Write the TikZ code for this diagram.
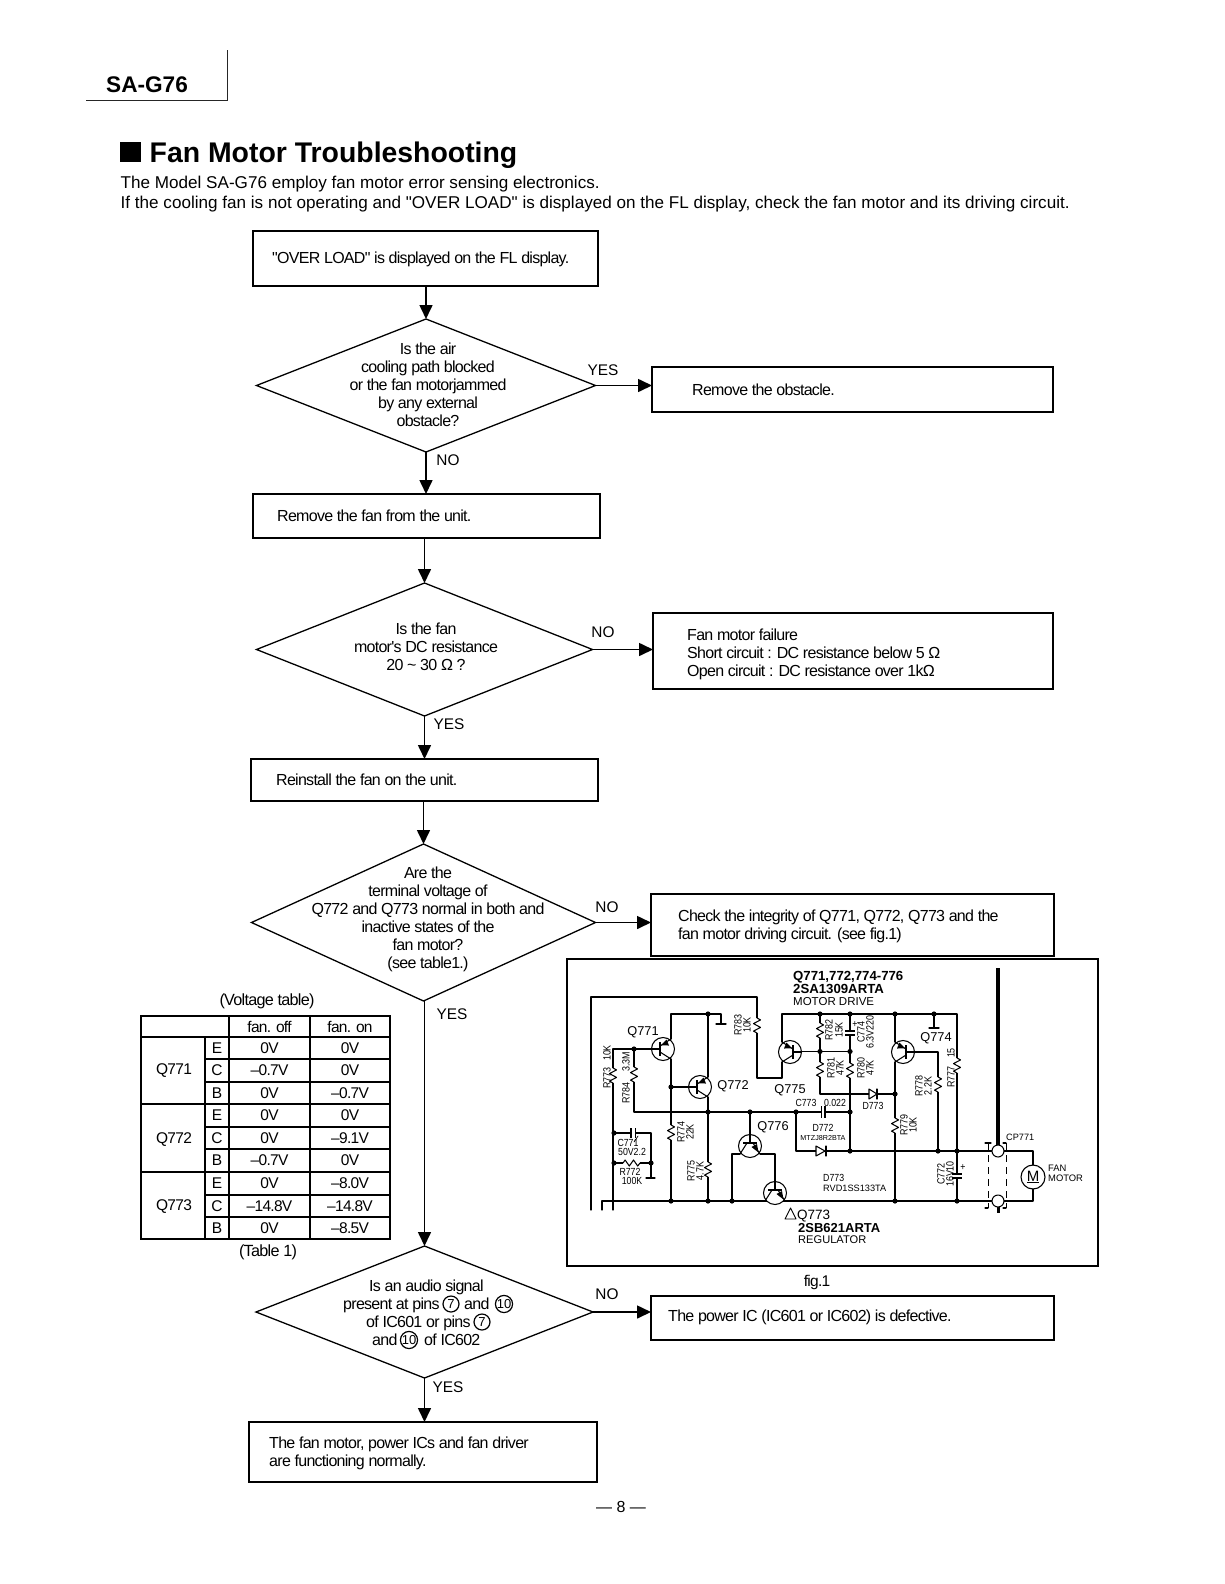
\documentclass[tikz,border=0pt]{standalone}
\usepackage{fontspec}
\setmainfont{Liberation Sans}
\newfontfamily\flowfont[LetterSpace=-4.5]{Liberation Sans}
\newfontfamily\bodyfont{Liberation Sans}
\newfontfamily\condfont[FakeStretch=0.85]{Liberation Sans}
\usetikzlibrary{shapes.geometric,arrows.meta}
\tikzset{
 fbox/.style={draw,line width=1.3pt,inner sep=0,outer sep=0},
 dia/.style={draw,diamond,aspect=2.5,line width=1.3pt,inner sep=0,outer sep=0},
 flowarrow/.style={line width=1.6pt,-{Triangle[length=14pt,width=13pt]}},
 ftext/.style={inner sep=0,anchor=base west,font=\flowfont\fontsize{16}{18}\selectfont},
 dtext/.style={inner sep=0,align=center,font=\flowfont\fontsize{16}{18}\selectfont},
 yn/.style={inner sep=0,font=\fontsize{15.4}{18}\selectfont},
 tcell/.style={inner sep=0,font=\flowfont\fontsize{15.5}{18}\selectfont},
 tcap/.style={inner sep=0,font=\flowfont\fontsize{16.2}{18}\selectfont},
 cnum/.style={draw,circle,inner sep=0,minimum size=16pt,line width=1.2pt,font=\fontsize{13}{14}\selectfont},
 wire/.style={line width=1.05pt,line cap=round,line join=round},
 tline/.style={line width=1.5pt},
 lab/.style={inner sep=0,font=\condfont\fontsize{10.3}{11}\selectfont},
 vlab/.style={inner sep=0,rotate=90,font=\condfont\fontsize{10.5}{11}\selectfont},
 qlab/.style={inner sep=0,font=\fontsize{12.8}{14}\selectfont},
 hb/.style={inner sep=0,anchor=base west,font=\bfseries\fontsize{13.2}{14}\selectfont},
 hr/.style={inner sep=0,anchor=base west,font=\fontsize{11.5}{13}\selectfont},
}
\newcommand\mn{–}
\newcommand\trhor[3]{%
 \begin{scope}[shift={(#1,#2)},xscale=#3]
 \draw[wire,fill=white] (0,0) circle (11.5);
 \draw[wire] (-11.5,0)--(-3,0);
 \draw[line width=1.8pt] (-3,-7)--(-3,7);
 \draw[wire] (-3,3)--(8,10);
 \draw[wire] (-3,-3)--(8,-10);
 \fill (-2,-3.6)--(3.5,-9.5)--(6,-3.5)--cycle;
 \end{scope}}
\newcommand\trver[2]{%
 \begin{scope}[shift={(#1,#2)}]
 \draw[wire,fill=white] (0,0) circle (11.5);
 \draw[wire] (0,-11.5)--(0,-3);
 \draw[line width=1.8pt] (-7,-3)--(7,-3);
 \draw[wire] (-3,-3)--(-10,8);
 \draw[wire] (3,-3)--(10,8);
 \fill (8.5,6.5)--(1.5,1)--(7,-2)--cycle;
 \end{scope}}
\newcommand\resv[2]{%
 \fill[white] (#1-1.5,#2) rectangle (#1+1.5,#2+15);
 \draw[wire] (#1,#2)--++(3.5,1.9)--++(-7,3.7)--++(7,3.8)--++(-7,3.7)--++(3.5,1.9);}
\newcommand\resh[2]{%
 \fill[white] (#1,#2-1.5) rectangle (#1+17,#2+1.5);
 \draw[wire] (#1,#2)--++(2.1,-3)--++(4.2,6)--++(4.2,-6)--++(4.2,6)--++(2.3,-3);}
\begin{document}
\begin{tikzpicture}[x=1pt,y=-1pt]
\useasboundingbox (0,0) rectangle (1224,1584);
% header
\draw[line width=1pt,black!85] (86,101)--(227,101)--(227,50);
\node[inner sep=0,anchor=base west,font=\bfseries\fontsize{22.6}{24}\selectfont] (model) at (106,93) {SA-G76};
\fill (120,142) rectangle (141,162);
\node[inner sep=0,anchor=base west,font=\bfseries\fontsize{28.4}{30}\selectfont] (title) at (149.5,162) {Fan Motor Troubleshooting};
\node[inner sep=0,anchor=base west,font=\bodyfont\fontsize{17.1}{20}\selectfont] (p1) at (120.5,188) {The Model SA-G76 employ fan motor error sensing electronics.};
\node[inner sep=0,anchor=base west,font=\bodyfont\fontsize{17.1}{20}\selectfont] (p2) at (120.5,208) {If the cooling fan is not operating and "OVER LOAD" is displayed on the FL display, check the fan motor and its driving circuit.};
% boxes
\node[fbox,minimum width=345pt,minimum height=55pt] (b1) at (425.5,258.5) {};
\node[fbox,minimum width=401pt,minimum height=45pt] (r1) at (852.5,389.5) {};
\node[fbox,minimum width=347pt,minimum height=44pt] (b2) at (426.5,516) {};
\node[fbox,minimum width=400pt,minimum height=76pt] (r2) at (853,651) {};
\node[fbox,minimum width=347pt,minimum height=42pt] (b3) at (424.5,780) {};
\node[fbox,minimum width=403pt,minimum height=62pt] (r3) at (852.5,925) {};
\node[fbox,minimum width=403pt,minimum height=44pt] (r4) at (852.5,1318) {};
\node[fbox,minimum width=348pt,minimum height=60pt] (b5) at (423,1452) {};
% diamonds
\node[dia,minimum width=339pt,minimum height=133pt] (d1) at (426,385.5) {};
\node[dia,minimum width=336pt,minimum height=133pt] (d2) at (424.5,649.5) {};
\node[dia,minimum width=344pt,minimum height=157pt] (d3) at (423.5,922.5) {};
\node[dia,minimum width=337pt,minimum height=132pt] (d4) at (424.5,1312) {};
% connectors
\draw[flowarrow] (d1.north |- b1.south) -- (d1.north);
\draw[flowarrow] (d1.east) -- (d1.east -| r1.west);
\draw[flowarrow] (d1.south) -- (d1.south |- b2.north);
\draw[flowarrow] (d2.north |- b2.south) -- (d2.north);
\draw[flowarrow] (d2.east) -- (d2.east -| r2.west);
\draw[flowarrow] (d2.south) -- (d2.south |- b3.north);
\draw[flowarrow] (d3.north |- b3.south) -- (d3.north);
\draw[flowarrow] (d3.east) -- (d3.east -| r3.west);
\draw[flowarrow] (d4.north |- d3.south) -- (d4.north);
\draw[flowarrow] (d4.east) -- (d4.east -| r4.west);
\draw[flowarrow] (d4.south) -- (d4.south |- b5.north);
% flow texts
\node[ftext] (tb1) at (272,263) {"OVER LOAD" is displayed on the FL display.};
\node[ftext] (tr1) at (692,395) {Remove the obstacle.};
\node[ftext] (tb2) at (277,521) {Remove the fan from the unit.};
\node[ftext] (tb3) at (276,785) {Reinstall the fan on the unit.};
\node[ftext,align=left,anchor=north west] (tr2) at (687,628.5) {Fan motor failure\\Short circuit : DC resistance below 5 Ω\\Open circuit : DC resistance over 1kΩ};
\node[ftext,align=left,anchor=north west] (tr3) at (678,909.5) {Check the integrity of Q771, Q772, Q773 and the\\fan motor driving circuit. (see fig.1)};
\node[ftext] (tr4) at (668,1321) {The power IC (IC601 or IC602) is defective.};
\node[ftext,align=left,anchor=north west] (tb5) at (269,1436.5) {The fan motor, power ICs and fan driver\\are functioning normally.};
\node[dtext] (td1) at (428,384.5) {Is the air\\cooling path blocked\\or the fan motorjammed\\by any external\\obstacle?};
\node[dtext] (td2) at (426,647) {Is the fan\\motor's DC resistance\\20 {\char"7E} 30 Ω ?};
\node[dtext] (td3) at (428,919.5) {Are the\\terminal voltage of\\Q772 and Q773 normal in both and\\inactive states of the\\fan motor?\\(see table1.)};
\node[ftext] (td4a) at (369,1291) {Is an audio signal};
\node[ftext] (td4b) at (343,1309) {present at pins};
\node[cnum] (c7a) at (451,1304) {7};
\node[ftext] (td4c) at (464,1309) {and};
\node[cnum] (c10a) at (504,1304) {10};
\node[ftext] (td4d) at (366,1327) {of IC601 or pins};
\node[cnum] (c7b) at (482,1322) {7};
\node[ftext] (td4e) at (372,1345) {and};
\node[cnum] (c10b) at (409,1340) {10};
\node[ftext] (td4f) at (424,1345) {of IC602};
% yes/no
\node[yn] (l1) at (603,370) {YES};
\node[yn] (l2) at (448,460) {NO};
\node[yn] (l3) at (603,632) {NO};
\node[yn] (l4) at (449,724) {YES};
\node[yn] (l5) at (607,907) {NO};
\node[yn] (l6) at (452,1014) {YES};
\node[yn] (l7) at (607,1294) {NO};
\node[yn] (l8) at (448,1387) {YES};
% table
\node[tcap] (vt) at (267,1001) {(Voltage table)};
\node[tcap] (t1) at (268,1252) {(Table 1)};
\draw[tline] (141,1016) rectangle (390,1239);
\draw[tline] (229,1016)--(229,1239);
\draw[tline] (310,1016)--(310,1239);
\draw[tline] (205,1037)--(205,1239);
\draw[tline] (141,1037)--(390,1037);
\draw[tline] (141,1104)--(390,1104);
\draw[tline] (141,1172)--(390,1172);
\foreach \yy in {1059,1082,1127,1149,1195,1217} \draw[tline] (205,\yy)--(390,\yy);
\node[tcell] (hoff) at (269.5,1027) {fan. off};
\node[tcell] (hon) at (350,1027) {fan. on};
\node[tcell] (q1) at (174,1071) {Q771};
\node[tcell] (q2) at (174,1140) {Q772};
\node[tcell] (q3) at (174,1207) {Q773};
\foreach \yy/\pp/\aa/\bb [count=\ii] in {
 1048/E/0V/0V,1070.5/C/\mn0.7V/0V,1093/B/0V/\mn0.7V,
 1115.5/E/0V/0V,1138/C/0V/\mn9.1V,1160.5/B/\mn0.7V/0V,
 1183.5/E/0V/\mn8.0V,1206/C/\mn14.8V/\mn14.8V,1228/B/0V/\mn8.5V}{
 \node[tcell] (tp\ii) at (217,\yy) {\pp};
 \node[tcell] (ta\ii) at (269.5,\yy) {\aa};
 \node[tcell] (tb\ii) at (350,\yy) {\bb};
}
% figure frame
\draw[line width=1.15pt] (567,959) rectangle (1098,1266);
\node[tcap,font=\flowfont\fontsize{15.5}{18}\selectfont] (fig) at (817,1282) {fig.1};
% figure headings
\node[hb] (h1) at (793,980) {Q771,772,774-776};
\node[hb] (h2) at (793,993) {2SA1309ARTA};
\node[hr] (h3) at (793,1005) {MOTOR DRIVE};
\draw[wire,line width=0.9pt] (785,1219)--(790.5,1208)--(796,1219)--cycle;
\node[inner sep=0,anchor=base west,font=\fontsize{13.5}{15}\selectfont] (h4) at (797,1219) {Q773};
\node[hb,font=\bfseries\fontsize{13}{14}\selectfont] (h5) at (798,1232) {2SB621ARTA};
\node[hr,font=\fontsize{11.1}{13}\selectfont] (h6) at (798,1243) {REGULATOR};
% wires
\draw[wire] (591,1210)--(591,997)--(757,997)--(757,1078)--(782,1078)--(782,1062);
\draw[wire] (782,1042)--(782,1014)--(957,1014)--(957,1201);
\draw[wire] (671,1039)--(671,1014)--(721,1014)--(721,1024);
\draw[wire,line width=1.3pt] (716,1024)--(726,1024);
\draw[wire] (671,1059)--(671,1201);
\draw[wire] (708,1014)--(708,1077);
\draw[wire] (708,1097)--(708,1201);
\draw[wire] (671,1087)--(689,1087);
\draw[wire] (613,1210)--(613,1049)--(652,1049);
\draw[wire] (634,1049)--(634,1112)--(821.5,1112);
\draw[wire] (825,1112)--(850,1112);
\draw[wire] (750,1112)--(750,1135);
\draw[wire] (796,1112)--(796,1151)--(992,1151);
\draw[wire] (850,1014)--(850,1151);
\draw[wire] (820,1014)--(820,1094)--(895,1094);
\draw[wire] (801,1051.5)--(850,1051.5);
\draw[wire] (895,1014)--(895,1042);
\draw[wire] (895,1062)--(895,1201);
\draw[wire] (914,1052)--(938,1052)--(938,1151);
\draw[wire] (934,1014)--(934,1028);
\draw[wire,line width=1.3pt] (929,1028)--(939,1028);
\draw[wire] (602,1210)--(602,1201)--(992,1201);
\draw[wire] (614,1133)--(651,1133)--(651,1178);
\draw[wire,line width=1.3pt] (646,1178)--(655,1178);
\draw[wire] (614,1163)--(651,1163);
\draw[wire] (732,1201)--(732,1154)--(740,1154);
\draw[wire] (760,1154)--(775,1154)--(775,1182);
% capacitors
\fill[white] (631,1128) rectangle (635.5,1138);
\draw[line width=1.5pt] (631,1128)--(631,1138) (635.5,1128)--(635.5,1138);
\draw[wire,line width=.7pt] (634,1142)--(638,1136);
\fill[white] (821.7,1105) rectangle (825,1119);
\draw[line width=1.5pt] (821.7,1106)--(821.7,1118) (825,1106)--(825,1118);
\fill[white] (845,1031) rectangle (855,1035);
\draw[line width=1.5pt] (845,1031)--(855,1031) (845,1035)--(855,1035);
\node[lab] (p774) at (855,1025) {+};
\fill[white] (952,1174) rectangle (962,1178);
\draw[line width=1.5pt] (952,1174)--(962,1174) (952,1178)--(962,1178);
\node[lab] (p772) at (963,1168) {+};
% diodes
\fill[white] (816,1147) rectangle (826,1155);
\draw[wire,fill=white] (816,1146)--(816,1156)--(825,1151)--cycle;
\draw[wire] (826,1146)--(826,1156);
\fill[white] (869,1090) rectangle (877,1098);
\draw[wire,fill=white] (869,1089)--(869,1099)--(877,1094)--cycle;
\draw[wire] (877,1089)--(877,1099);
% resistors
\resv{613}{1068}\resv{634}{1067}\resv{757}{1018}\resv{820}{1023}\resv{820}{1062}\resv{850}{1063}
\resv{671}{1125}\resv{708}{1162}\resv{895}{1118}\resv{938}{1077}\resv{957}{1058}
\resh{623}{1163}
% transistors
\trhor{663}{1049}{1}
\trhor{700}{1087}{1}
\trhor{790}{1052}{-1}
\trhor{903}{1052}{-1}
\trver{750}{1146}
\trver{775}{1193}
% dots
\foreach \px/\py in {708/1014,634/1049,671/1087,708/1112,750/1112,796/1112,850/1112,614/1133,614/1163,651/1163,671/1201,708/1201,732/1201,820/1014,850/1014,895/1014,934/1014,820/1051.5,850/1051.5,895/1094,850/1151,938/1151,957/1151,895/1201,957/1201}
 \fill (\px,\py) circle (2.6);
% connector and motor
\draw[line width=4pt] (998,968)--(998,1146);
\draw[line width=3pt] (998,1206)--(998,1213);
\draw[line width=1pt,dash pattern=on 7pt off 5pt] (988,1143)--(988,1208) (1006,1143)--(1006,1208);
\draw[wire] (985,1143)--(991,1143) (1003,1143)--(1006,1143) (985,1208)--(988,1208) (1003,1208)--(1006,1208);
\draw[wire,fill=white] (998,1151) circle (6);
\draw[wire,fill=white] (998,1201) circle (6);
\draw[wire] (1004,1151)--(1033,1151)--(1033,1165);
\draw[wire] (1033,1189)--(1033,1201)--(1004,1201);
\node[draw,circle,line width=1.1pt,minimum size=24pt,inner sep=0,font=\fontsize{15}{16}\selectfont] (motor) at (1033,1177) {\underline{M}};
\node[inner sep=0,anchor=base west,font=\fontsize{9.2}{10}\selectfont] (cp) at (1006,1140) {CP771};
\node[inner sep=0,anchor=base west,font=\fontsize{9.4}{10}\selectfont] (fan1) at (1048,1171) {FAN};
\node[inner sep=0,anchor=base west,font=\fontsize{9.4}{10}\selectfont] (fan2) at (1048,1181) {MOTOR};
% transistor labels
\node[qlab] (nq1) at (643,1032) {Q771};
\node[qlab] (nq2) at (733,1086) {Q772};
\node[qlab] (nq5) at (790,1090) {Q775};
\node[qlab] (nq6) at (773,1127) {Q776};
\node[qlab] (nq4) at (936,1038) {Q774};
% part labels
\node[lab] (n1) at (806,1103) {C773};
\node[lab] (n2) at (835,1103) {0.022};
\node[lab] (n3) at (873,1106) {D773};
\node[lab] (n4) at (823,1128) {D772};
\node[inner sep=0,font=\fontsize{7.2}{8}\selectfont] (n5) at (823,1138) {MTZJ8R2BTA};
\node[lab,anchor=base west] (n6) at (823,1181) {D773};
\node[inner sep=0,anchor=base west,font=\fontsize{9.2}{10}\selectfont] (n7) at (823,1191) {RVD1SS133TA};
\node[lab] (n8) at (628,1143) {C771};
\node[lab] (n9) at (632,1152) {50V2.2};
\node[lab] (n10) at (630,1172) {R772};
\node[lab] (n11) at (632,1180.5) {100K};
\node[vlab] (v1) at (738,1025) {R783};
\node[vlab] (v2) at (747,1025) {10K};
\node[vlab] (v3) at (607,1078) {R773};
\node[vlab] (v4) at (607,1053) {10K};
\node[vlab] (v5) at (626,1062) {3.3M};
\node[vlab] (v6) at (626,1093) {R784};
\node[vlab] (v7) at (681,1132) {R774};
\node[vlab] (v8) at (690,1132) {22K};
\node[vlab] (v9) at (691,1171) {R775};
\node[vlab] (v10) at (700,1171) {4.7K};
\node[vlab] (v11) at (829,1030) {R782};
\node[vlab] (v12) at (839,1030) {15K};
\node[vlab] (v13) at (861,1032) {C774};
\node[vlab] (v14) at (870,1032) {6.3V220};
\node[vlab] (v15) at (831,1068) {R781};
\node[vlab] (v16) at (840,1068) {47K};
\node[vlab] (v17) at (861,1068) {R780};
\node[vlab] (v18) at (870,1068) {47K};
\node[vlab] (v19) at (919,1086) {R778};
\node[vlab] (v20) at (928,1086) {2.2K};
\node[vlab] (v21) at (951,1077) {R777};
\node[vlab] (v22) at (951,1053) {15};
\node[vlab] (v23) at (904,1125) {R779};
\node[vlab] (v24) at (913,1125) {10K};
\node[vlab] (v25) at (941,1174) {C772};
\node[vlab] (v26) at (950,1174) {16V10};
% page number
\node[inner sep=0,font=\fontsize{16}{18}\selectfont] (pg) at (621,1507) {— 8 —};
\end{tikzpicture}
\end{document}
